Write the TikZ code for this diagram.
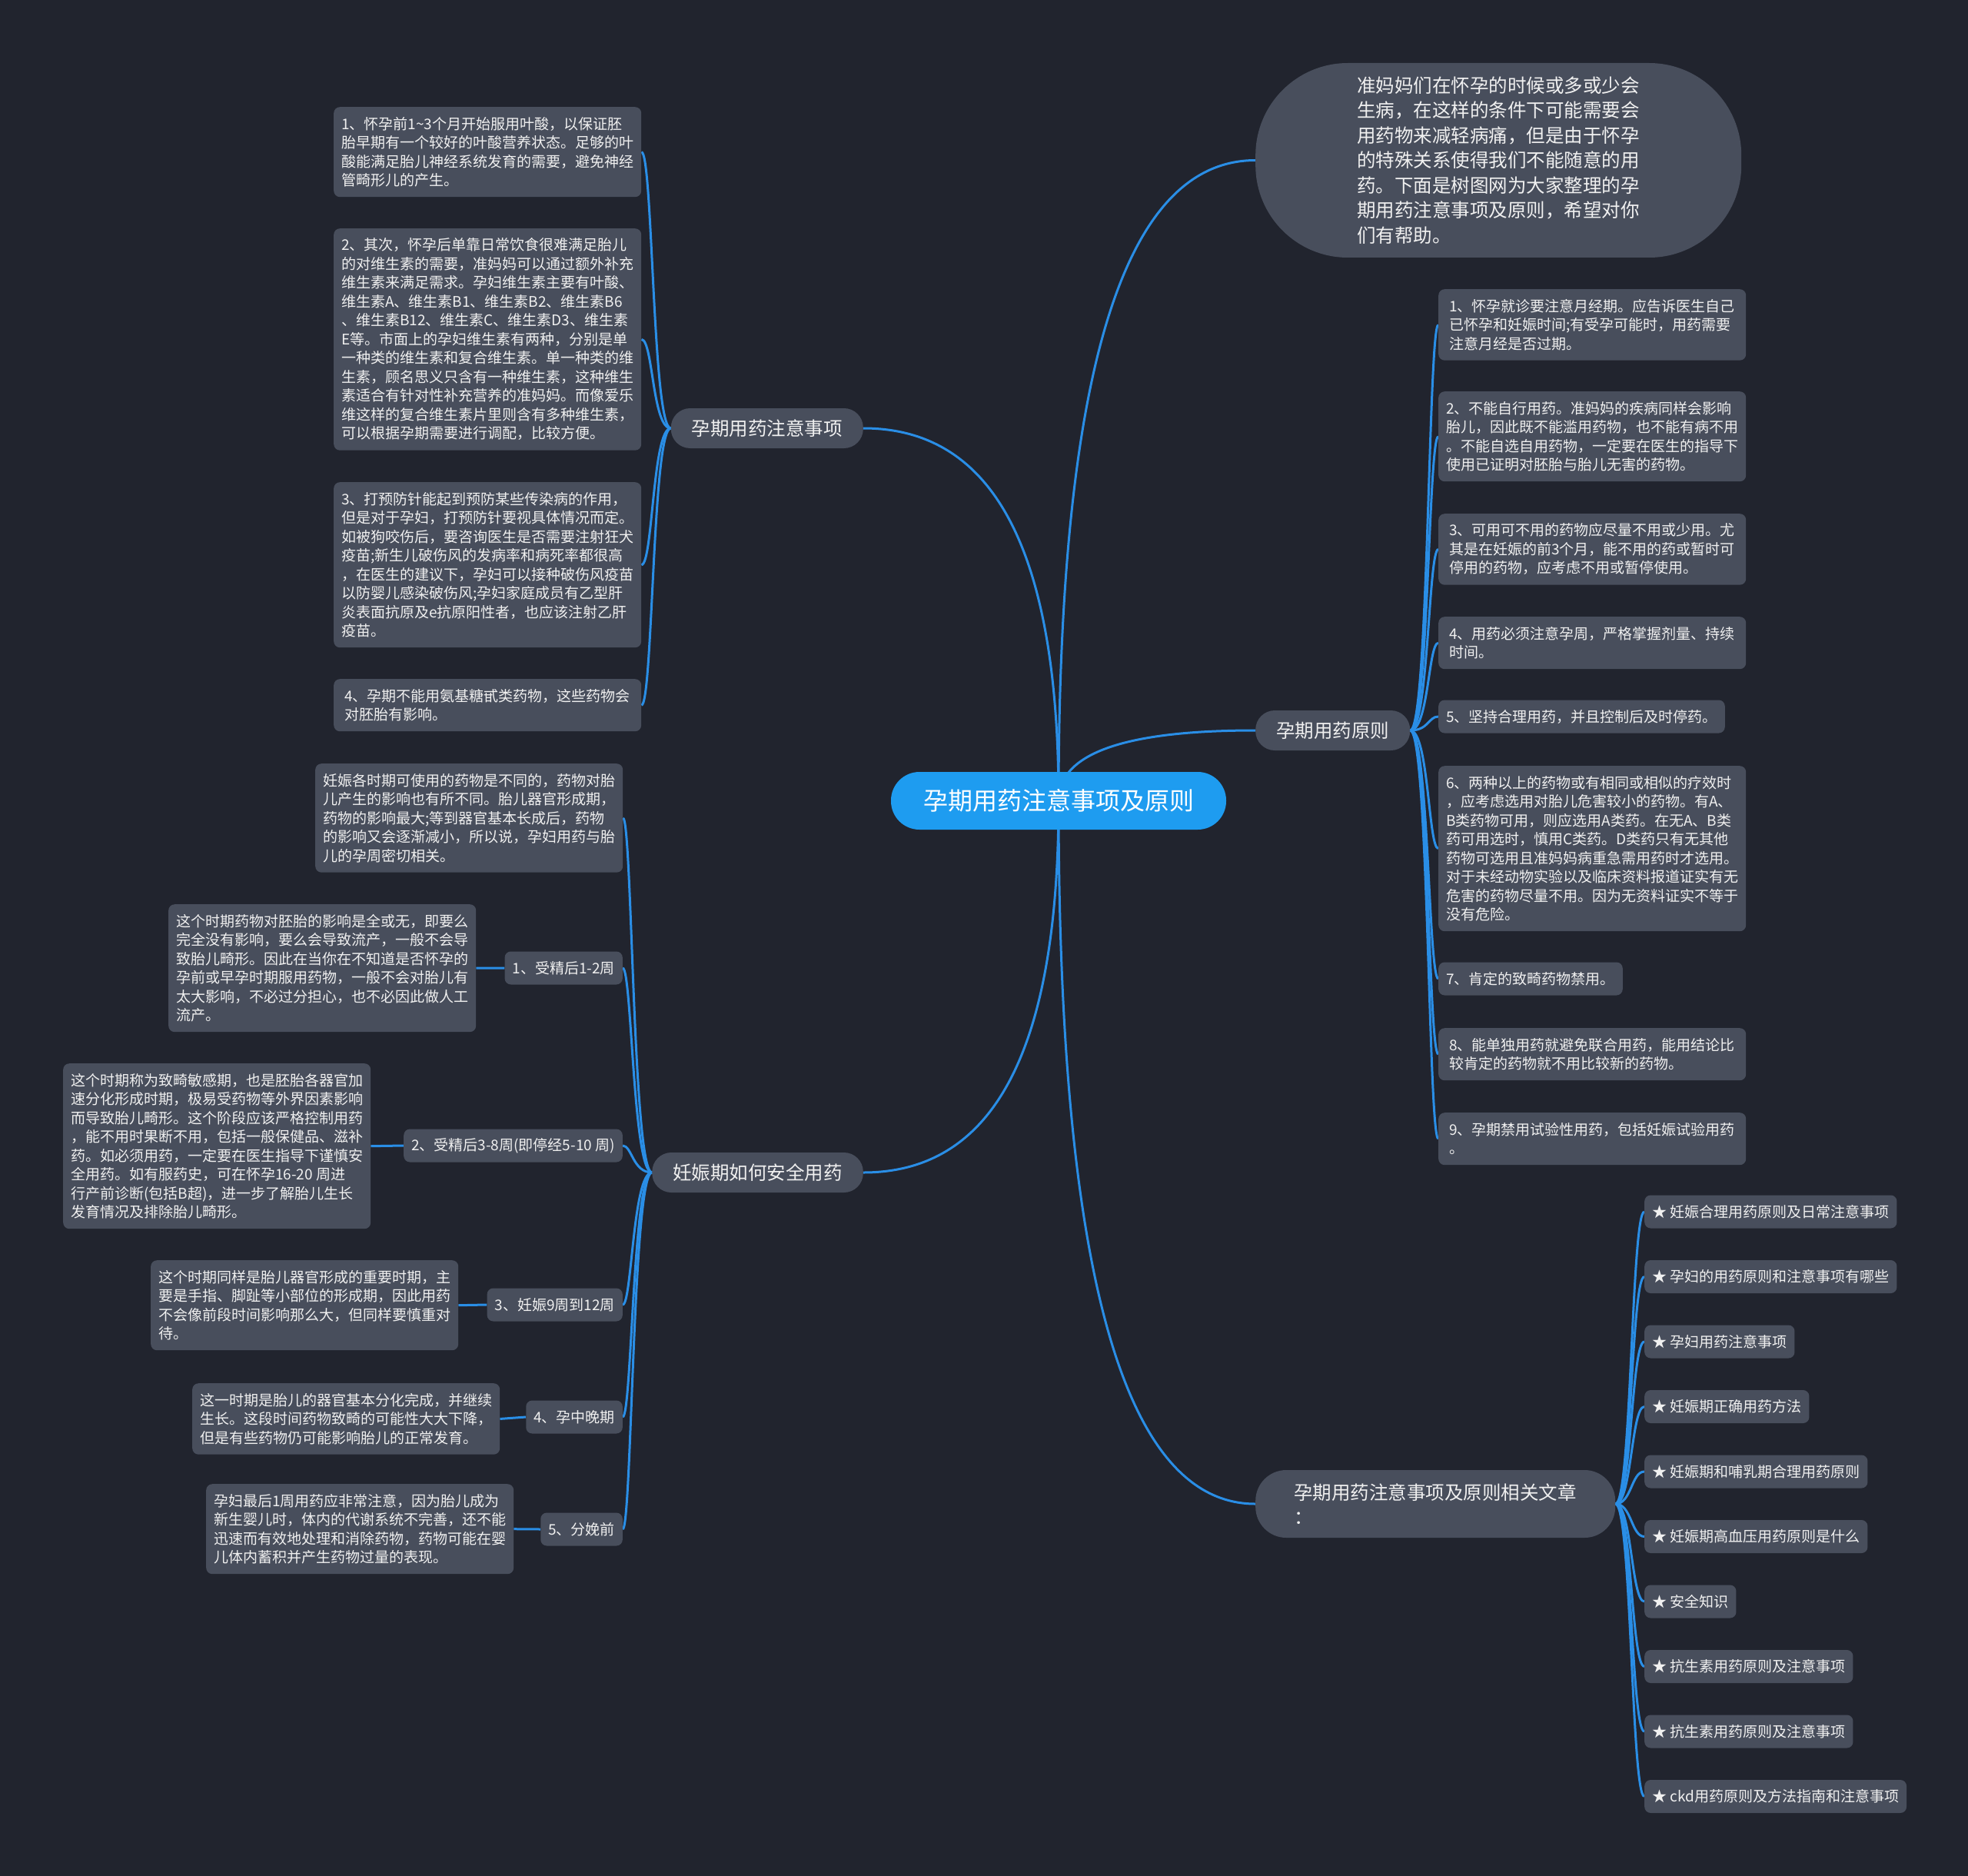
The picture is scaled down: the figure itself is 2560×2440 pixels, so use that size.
\documentclass[tikz,border=0pt]{standalone}
\usepackage{fontspec}
\setmainfont{Noto Sans CJK SC}
\usetikzlibrary{calc,backgrounds}
\definecolor{Night}{HTML}{21242E}
\definecolor{Slate}{HTML}{484E5C}
\definecolor{Sky}{HTML}{2A8EE6}
\definecolor{Azure}{HTML}{1E9CF0}
\definecolor{Paper}{HTML}{F0F0F0}
\tikzset{
 every node/.style={text=Paper,font=\fontsize{19}{24.5}\selectfont,inner sep=0pt},
 link/.style={draw=Sky,line width=3pt},
 card/.style={fill=Slate,rounded corners=8pt,align=left,inner xsep=10pt},
 para/.style={card,minimum width=400pt,anchor=north west},
 tag/.style={card,minimum height=43pt},
 topic/.style={fill=Slate,rounded corners=25pt,minimum height=52pt,inner xsep=27pt,font=\fontsize{24.5}{32.5}\selectfont},
 hub/.style={fill=Azure,text=white,rounded corners=37pt,minimum width=436pt,minimum height=75pt,font=\fontsize{32}{40}\selectfont},
 }
\newcommand{\paracard}[5]{\node[para,minimum height={#4*24.5pt+19pt}](#1)at(#2,#3){#5};}

\begin{document}
\begin{tikzpicture}[x=1pt,y=-1pt]
 \begin{scope}[on background layer]
 \fill[Night](0,0)rectangle(2560,2440);
 \end{scope}
 \useasboundingbox(0,0)rectangle(2560,2440);
 % centre and main topics
 \node[hub](hub)at(1377,1041.5){孕期用药注意事项及原则};
 \node[topic,anchor=west,minimum width=632pt,minimum height=253pt,rounded corners=120pt,align=left](intro)at(1633,208.5){准妈妈们在怀孕的时候或多或少会\\生病，在这样的条件下可能需要会\\用药物来减轻病痛，但是由于怀孕\\的特殊关系使得我们不能随意的用\\药。下面是树图网为大家整理的孕\\期用药注意事项及原则，希望对你\\们有帮助。};
 \node[topic,anchor=east](care)at(1123,557){孕期用药注意事项};
 \node[topic,anchor=east](safe)at(1123,1525){妊娠期如何安全用药};
 \node[topic,anchor=west](rule)at(1633,950){孕期用药原则};
 \node[topic,anchor=west,minimum width=468pt,minimum height=88pt,rounded corners=40pt,align=left](more)at(1633,1956){孕期用药注意事项及原则相关文章\\：};
 % left: notes
 \paracard{c1}{434}{139}{4}{1、怀孕前1\textasciitilde3个月开始服用叶酸，以保证胚\\胎早期有一个较好的叶酸营养状态。足够的叶\\酸能满足胎儿神经系统发育的需要，避免神经\\管畸形儿的产生。}
 \paracard{c2}{434}{297}{11}{2、其次，怀孕后单靠日常饮食很难满足胎儿\\的对维生素的需要，准妈妈可以通过额外补充\\维生素来满足需求。孕妇维生素主要有叶酸、\\维生素A、维生素B1、维生素B2、维生素B6\\、维生素B12、维生素C、维生素D3、维生素\\E等。市面上的孕妇维生素有两种，分别是单\\一种类的维生素和复合维生素。单一种类的维\\生素，顾名思义只含有一种维生素，这种维生\\素适合有针对性补充营养的准妈妈。而像爱乐\\维这样的复合维生素片里则含有多种维生素，\\可以根据孕期需要进行调配，比较方便。}
 \paracard{c3}{434}{627}{8}{3、打预防针能起到预防某些传染病的作用，\\但是对于孕妇，打预防针要视具体情况而定。\\如被狗咬伤后，要咨询医生是否需要注射狂犬\\疫苗;新生儿破伤风的发病率和病死率都很高\\，在医生的建议下，孕妇可以接种破伤风疫苗\\以防婴儿感染破伤风;孕妇家庭成员有乙型肝\\炎表面抗原及e抗原阳性者，也应该注射乙肝\\疫苗。}
 \paracard{c4}{434}{883}{2}{4、孕期不能用氨基糖甙类药物，这些药物会\\对胚胎有影响。}
 % left: weeks
 \paracard{d0}{410}{993}{5}{妊娠各时期可使用的药物是不同的，药物对胎\\儿产生的影响也有所不同。胎儿器官形成期，\\药物的影响最大;等到器官基本长成后，药物\\的影响又会逐渐减小，所以说，孕妇用药与胎\\儿的孕周密切相关。}
 \paracard{p1}{219}{1176}{6}{这个时期药物对胚胎的影响是全或无，即要么\\完全没有影响，要么会导致流产，一般不会导\\致胎儿畸形。因此在当你在不知道是否怀孕的\\孕前或早孕时期服用药物，一般不会对胎儿有\\太大影响，不必过分担心，也不必因此做人工\\流产。}
 \paracard{p2}{82}{1383}{8}{这个时期称为致畸敏感期，也是胚胎各器官加\\速分化形成时期，极易受药物等外界因素影响\\而导致胎儿畸形。这个阶段应该严格控制用药\\，能不用时果断不用，包括一般保健品、滋补\\药。如必须用药，一定要在医生指导下谨慎安\\全用药。如有服药史，可在怀孕16-20 周进\\行产前诊断(包括B超)，进一步了解胎儿生长\\发育情况及排除胎儿畸形。}
 \paracard{p3}{196}{1639}{4}{这个时期同样是胎儿器官形成的重要时期，主\\要是手指、脚趾等小部位的形成期，因此用药\\不会像前段时间影响那么大，但同样要慎重对\\待。}
 \paracard{p4}{250}{1799}{3}{这一时期是胎儿的器官基本分化完成，并继续\\生长。这段时间药物致畸的可能性大大下降，\\但是有些药物仍可能影响胎儿的正常发育。}
 \paracard{p5}{268}{1930}{4}{孕妇最后1周用药应非常注意，因为胎儿成为\\新生婴儿时，体内的代谢系统不完善，还不能\\迅速而有效地处理和消除药物，药物可能在婴\\儿体内蓄积并产生药物过量的表现。}
 \foreach \i/\y/\t in {1/1259/1、受精后1-2周,2/1490/2、受精后3-8周(即停经5-10 周),3/1697/3、妊娠9周到12周,4/1843/4、孕中晚期,5/1989/5、分娩前}
 \node[tag,anchor=east](w\i)at(810,\y){\t};
 % right: principles
 \paracard{e1}{1871}{376}{3}{1、怀孕就诊要注意月经期。应告诉医生自己\\已怀孕和妊娠时间;有受孕可能时，用药需要\\注意月经是否过期。}
 \paracard{e2}{1871}{509}{4}{2、不能自行用药。准妈妈的疾病同样会影响\\胎儿，因此既不能滥用药物，也不能有病不用\\。不能自选自用药物，一定要在医生的指导下\\使用已证明对胚胎与胎儿无害的药物。}
 \paracard{e3}{1871}{668}{3}{3、可用可不用的药物应尽量不用或少用。尤\\其是在妊娠的前3个月，能不用的药或暂时可\\停用的药物，应考虑不用或暂停使用。}
 \paracard{e4}{1871}{802}{2}{4、用药必须注意孕周，严格掌握剂量、持续\\时间。}
 \node[tag,anchor=west](e5)at(1871,932){5、坚持合理用药，并且控制后及时停药。};
 \paracard{e6}{1871}{996}{8}{6、两种以上的药物或有相同或相似的疗效时\\，应考虑选用对胎儿危害较小的药物。有A、\\B类药物可用，则应选用A类药。在无A、B类\\药可用选时，慎用C类药。D类药只有无其他\\药物可选用且准妈妈病重急需用药时才选用。\\对于未经动物实验以及临床资料报道证实有无\\危害的药物尽量不用。因为无资料证实不等于\\没有危险。}
 \node[tag,anchor=west](e7)at(1871,1273){7、肯定的致畸药物禁用。};
 \paracard{e8}{1871}{1337}{2}{8、能单独用药就避免联合用药，能用结论比\\较肯定的药物就不用比较新的药物。}
 \paracard{e9}{1871}{1447}{2}{9、孕期禁用试验性用药，包括妊娠试验用药\\。}
 % right: articles
 \foreach \i/\t in {1/妊娠合理用药原则及日常注意事项,2/孕妇的用药原则和注意事项有哪些,3/孕妇用药注意事项,4/妊娠期正确用药方法,5/妊娠期和哺乳期合理用药原则,6/妊娠期高血压用药原则是什么,7/安全知识,8/抗生素用药原则及注意事项,9/抗生素用药原则及注意事项,10/ckd用药原则及方法指南和注意事项}
 \node[tag,anchor=west](f\i)at(2139,{1576+84.5*(\i-1)}){★ \t};
 % connectors
 \begin{scope}[on background layer]
 \foreach \t/\a in {intro/west,care/east,safe/east,rule/west,more/west}
 \draw[link](hub.center)..controls($(hub.center)!.67!(hub.center|-\t.\a)$)and($(\t.\a)!.67!(hub.center|-\t.\a)$)..(\t.\a);
 \foreach \c in {c1,c2,c3,c4}
 \draw[link](care.west)..controls+(-24,0)and+(15,0)..(\c.east);
 \foreach \c in {d0,w1,w2,w3,w4,w5}
 \draw[link](safe.west)..controls+(-25,0)and+(12,0)..(\c.east);
 \foreach \i in {1,...,5}
 \draw[link](w\i.west)--(p\i.east);
 \foreach \c in {e1,e2,e3,e4,e5,e6,e7,e8,e9}
 \draw[link](rule.east)..controls+(24,0)and+(-13,0)..(\c.west);
 \foreach \i in {1,...,10}
 \draw[link](more.east)..controls+(21,0)and+(-17,0)..(f\i.west);
 \end{scope}
\end{tikzpicture}
\end{document}
